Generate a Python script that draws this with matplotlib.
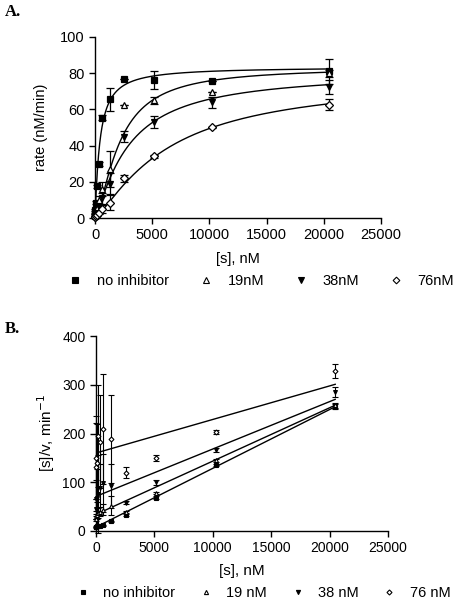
import numpy as np
import matplotlib
matplotlib.use('Agg')
import matplotlib.pyplot as plt
from matplotlib.lines import Line2D

plt.rcParams['font.family'] = ['Liberation Sans', 'DejaVu Sans']

# substrate concentrations, nM
s_conc = [20, 40, 80, 160, 320, 640, 1280, 2560, 5120, 10240, 20480]

labels_a = ['no inhibitor', '19nM', '38nM', '76nM']
labels_b = ['no inhibitor', '19 nM', '38 nM', '76 nM']
markers = ['s', '^', 'v', 'D']
filled = [True, False, True, False]

# panel A: rate (nM/min)
rate_none = [2.5, 4.5, 8.5, 17.5, 30, 55.5, 65.5, 77, 76, 75.5, 81]
rate_19 = [1, 1.5, 3, 5.5, 10, 16, 27, 62.5, 65, 69.5, 80]
rate_38 = [0.5, 1, 2, 3, 6, 11, 19, 45, 53, 64, 72.5]
rate_76 = [0.3, 0.5, 1, 1.5, 3, 5, 8.5, 22, 34, 50, 62.5]
err_none = [0.5, 0.5, 1, 1, 1, 1.5, 6.5, 0, 5, 0, 7]
err_19 = [0.3, 0.5, 0.5, 1, 2, 4, 10, 0, 2, 0, 2]
err_38 = [0.3, 0.5, 0.5, 1, 2, 3, 6, 3, 3.5, 3, 4]
err_76 = [0.2, 0.3, 0.5, 0.5, 1, 2, 4, 2, 1, 0.5, 3]

# fitted curves (Hill form): Vmax, K, h
fit_vmax = [83.5, 83.3, 81, 78]
fit_k = [420, 2149, 2980, 6440]
fit_h = [1.1, 1.5, 1.2, 1.25]

# panel B: [s]/v (min^-1)
hw_none = [8, 9, 9.5, 9.5, 10.5, 11.5, 19.5, 33, 68, 135, 255]
hw_19 = [25, 30, 33, 37, 40, 44, 52, 39, 78, 145, 258]
hw_38 = [45, 65, 68, 75, 88, 98, 93, 58, 100, 166, 285]
hw_76 = [131, 150, 140, 195, 183, 210, 188, 120, 150, 204, 328]
hwerr_none = [1, 1, 1, 1, 1, 1, 1, 2, 3, 2, 5]
hwerr_19 = [5, 5, 8, 10, 10, 11, 20, 3, 3, 3, 5]
hwerr_38 = [20, 40, 60, 80, 50, 60, 45, 3, 5, 4, 10]
hwerr_76 = [90, 85, 80, 105, 95, 113, 90, 12, 6, 4, 15]

# linear fits for panel B
hw_intercept = [8, 34, 71, 160]
hw_slope = [0.01206, 0.01094, 0.00972, 0.00688]

rates = [rate_none, rate_19, rate_38, rate_76]
rate_errs = [err_none, err_19, err_38, err_76]
hws = [hw_none, hw_19, hw_38, hw_76]
hw_errs = [hwerr_none, hwerr_19, hwerr_38, hwerr_76]

fig = plt.figure(figsize=(4.58, 6.0), dpi=100)
W, H = 458, 600
axA = fig.add_axes([95 / W, 1 - 218 / H, 286 / W, 181 / H])
axB = fig.add_axes([96 / W, 1 - 531 / H, 292 / W, 195 / H])

for ax in (axA, axB):
    ax.spines['top'].set_visible(False)
    ax.spines['right'].set_visible(False)
    for sp in ('left', 'bottom'):
        ax.spines[sp].set_linewidth(1.0)
    ax.tick_params(direction='out', length=4, width=1.0, colors='black')

# ---- panel A
xs = np.linspace(0, 20480, 400)
for i in range(4):
    y = fit_vmax[i] / (1 + (fit_k[i] / np.maximum(xs, 1e-9)) ** fit_h[i])
    axA.plot(xs, y, color='black', lw=1.0, zorder=2)
    axA.errorbar(s_conc, rates[i], yerr=rate_errs[i], fmt=markers[i],
                 color='black', ecolor='black', elinewidth=0.9, capsize=3,
                 capthick=0.9, markersize=4.5 if markers[i] != 'D' else 4,
                 markerfacecolor='black' if filled[i] else 'white',
                 markeredgecolor='black', markeredgewidth=0.9, clip_on=False, zorder=3)

axA.set_xlim(0, 25000)
axA.set_ylim(0, 100)
axA.set_xticks([0, 5000, 10000, 15000, 20000, 25000])
axA.set_yticks([0, 20, 40, 60, 80, 100])
axA.tick_params(labelsize=10.5)
axA.set_xlabel('[s], nM', fontsize=10.5)
axA.xaxis.set_label_coords(0.5, -0.19)
axA.set_ylabel('rate (nM/min)', fontsize=10.5)
axA.yaxis.set_label_coords(-0.165, 0.5)

# ---- panel B
xl = np.array([0, 20480])
for i in range(4):
    axB.plot(xl, hw_intercept[i] + hw_slope[i] * xl, color='black', lw=1.0, zorder=2)
    axB.errorbar(s_conc, hws[i], yerr=hw_errs[i], fmt=markers[i],
                 color='black', ecolor='black', elinewidth=0.8, capsize=2.5,
                 capthick=0.8, markersize=2.8 if markers[i] != 'D' else 2.5,
                 markerfacecolor='black' if filled[i] else 'white',
                 markeredgecolor='black', markeredgewidth=0.8, clip_on=False, zorder=3)

axB.set_xlim(0, 25000)
axB.set_ylim(0, 400)
axB.set_xticks([0, 5000, 10000, 15000, 20000, 25000])
axB.set_yticks([0, 100, 200, 300, 400])
axB.tick_params(labelsize=10)
axB.set_xlabel('[s], nM', fontsize=11)
axB.xaxis.set_label_coords(0.5, -0.17)
axB.set_ylabel('[s]/v, min$^{-1}$', fontsize=11)
axB.yaxis.set_label_coords(-0.135, 0.5)

# ---- legends
def handles(size):
    out = []
    for i in range(4):
        out.append(Line2D([], [], linestyle='none', marker=markers[i], color='black',
                          markersize=size if markers[i] != 'D' else size * 0.85,
                          markerfacecolor='black' if filled[i] else 'white',
                          markeredgecolor='black', markeredgewidth=0.8))
    return out

fig.legend(handles(4), labels_a, loc='center', bbox_to_anchor=(261 / W, 1 - 281 / H),
           ncol=4, frameon=False, fontsize=10.5, handlelength=1.0,
           handletextpad=1.0, columnspacing=2.0, borderpad=0)
fig.legend(handles(3), labels_b, loc='center', bbox_to_anchor=(263 / W, 1 - 593 / H),
           ncol=4, frameon=False, fontsize=10.5, handlelength=1.0,
           handletextpad=0.9, columnspacing=1.6, borderpad=0)

fig.text(5 / W, 1 - 12 / H, 'A.', fontsize=12, fontweight='bold',
         family='Liberation Serif', va='center', ha='left')
fig.text(5 / W, 1 - 329 / H, 'B.', fontsize=12, fontweight='bold',
         family='Liberation Serif', va='center', ha='left')

fig.savefig('out.png', dpi=100)
